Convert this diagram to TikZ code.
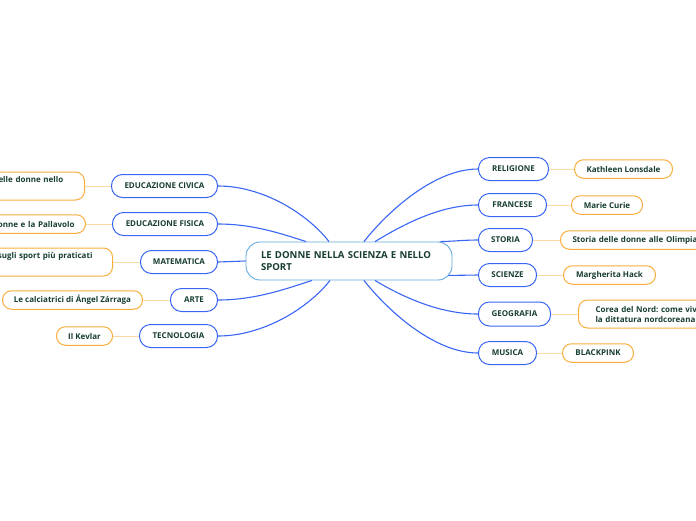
\documentclass[tikz,border=0pt]{standalone}
\usepackage{fontspec}
\setmainfont{Open Sans}
\frenchspacing
\usetikzlibrary{positioning}
\definecolor{ink}{HTML}{173D33}
\definecolor{topicblue}{HTML}{3A66F5}
\definecolor{rootblue}{HTML}{62A8DC}
\definecolor{leaforange}{HTML}{F8AE3C}
\definecolor{linkorange}{HTML}{FDD9A6}

\begin{document}
\begin{tikzpicture}[x=1pt,y=-1pt,font=\bfseries\fontsize{8}{10}\selectfont,text=ink,
  root/.style={draw=rootblue,line width=0.9pt,rounded corners=14pt,fill=white,align=left,text width=176pt,
    inner xsep=15pt,minimum height=38pt,font=\bfseries\fontsize{9.6}{12.5}\selectfont},
  topic/.style={draw=topicblue,line width=1pt,rounded corners=11pt,fill=white,minimum height=23pt,inner xsep=0pt},
  leaf/.style={draw=leaforange,line width=1pt,rounded corners=9pt,fill=white,minimum height=18.5pt,inner xsep=0pt},
  branch/.style={draw=topicblue,line width=1.1pt},
  twig/.style={draw=linkorange,line width=1pt}]
  \useasboundingbox[fill=white] (0,0) rectangle (696,520);
  % centre
  \node[root] (root) at (349,261) {LE DONNE NELLA SCIENZA E NELLO\\SPORT};
  % left topics
  \node[topic,anchor=east,minimum width=106pt] (civ) at (218,186) {EDUCAZIONE CIVICA};
  \node[topic,anchor=east,minimum width=105pt] (fis) at (218,224) {EDUCAZIONE FISICA};
  \node[topic,anchor=east,minimum width=77pt] (mat) at (218,262) {MATEMATICA};
  \node[topic,anchor=east,minimum width=47pt] (arte) at (218,300) {ARTE};
  \node[topic,anchor=east,minimum width=78pt] (tec) at (218,336) {TECNOLOGIA};
  % right topics
  \node[topic,anchor=west,minimum width=70pt] (rel) at (478,169) {RELIGIONE};
  \node[topic,anchor=west,minimum width=68pt] (fra) at (478,205) {FRANCESE};
  \node[topic,anchor=west,minimum width=54pt] (sto) at (478,240) {STORIA};
  \node[topic,anchor=west,minimum width=58pt] (sci) at (478,275) {SCIENZE};
  \node[topic,anchor=west,minimum width=72pt,minimum height=24pt] (geo) at (478,314) {GEOGRAFIA};
  \node[topic,anchor=west,minimum width=58pt] (mus) at (478,353) {MUSICA};
  % left leaves
  \node[leaf,left=26pt of civ,text width=74pt,inner xsep=12pt,align=left,minimum height=28pt] (ruolo) {elle donne nello\\\strut};
  \node[leaf,left=26pt of fis,text width=100pt,inner xsep=11pt,align=right] (volley) {onne e la Pallavolo};
  \node[leaf,left=27pt of mat,text width=110pt,inner xsep=20pt,align=right,minimum height=28pt] (sport) {sugli sport più praticati\\\strut};
  \node[leaf,left=27pt of arte,minimum width=140pt] (zarraga) {Le calciatrici di Ángel Zárraga};
  \node[leaf,left=26pt of tec,minimum width=56pt] (kevlar) {Il Kevlar};
  % right leaves
  \node[leaf,right=25pt of rel,minimum width=98pt] (lonsdale) {Kathleen Lonsdale};
  \node[leaf,right=24pt of fra,minimum width=71pt] (curie) {Marie Curie};
  \node[leaf,right=27pt of sto,text width=150pt,inner xsep=12pt,align=left] (olimp) {Storia delle donne alle Olimpiadi};
  \node[leaf,right=26pt of sci,minimum width=92pt] (hack) {Margherita Hack};
  \node[leaf,right=27pt of geo,text width=130pt,inner xsep=17pt,align=left,minimum height=28pt] (corea) {Corea del Nord: come vivo\\la dittatura nordcoreana};
  \node[leaf,right=25pt of mus,minimum width=71pt] (blackpink) {BLACKPINK};
  % topic to centre
  \draw[branch] (civ.east) .. controls +(45,0) and +(-22,-28) .. ([xshift=-20pt]root.north);
  \draw[branch] (fis.east) .. controls +(35,0) and +(-25,-8) .. ([xshift=-43pt]root.north);
  \draw[branch] (mat.east) -- (root.west);
  \draw[branch] (arte.east) .. controls +(38,0) and +(-25,8) .. ([xshift=-37pt]root.south);
  \draw[branch] (tec.east) .. controls +(45,0) and +(-22,28) .. ([xshift=-19pt]root.south);
  \draw[branch] (rel.west) .. controls +(-45,0) and +(22,-28) .. ([xshift=15pt]root.north);
  \draw[branch] (fra.west) .. controls +(-40,0) and +(25,-15) .. ([xshift=26pt]root.north);
  \draw[branch] (sto.west) .. controls +(-15,0) and +(10,0) .. ([xshift=-12pt]root.north east);
  \draw[branch] (sci.west) -- ([xshift=-4pt,yshift=5pt]root.south east);
  \draw[branch] (geo.west) .. controls +(-40,0) and +(25,15) .. ([xshift=26pt]root.south);
  \draw[branch] (mus.west) .. controls +(-45,0) and +(22,28) .. ([xshift=15pt]root.south);
  % topic to leaf
  \foreach \a/\b in {civ/ruolo,fis/volley,mat/sport,arte/zarraga,tec/kevlar,rel/lonsdale,fra/curie,sto/olimp,sci/hack,geo/corea,mus/blackpink}
    \draw[twig] (\a) -- (\b);
\end{tikzpicture}
\end{document}
